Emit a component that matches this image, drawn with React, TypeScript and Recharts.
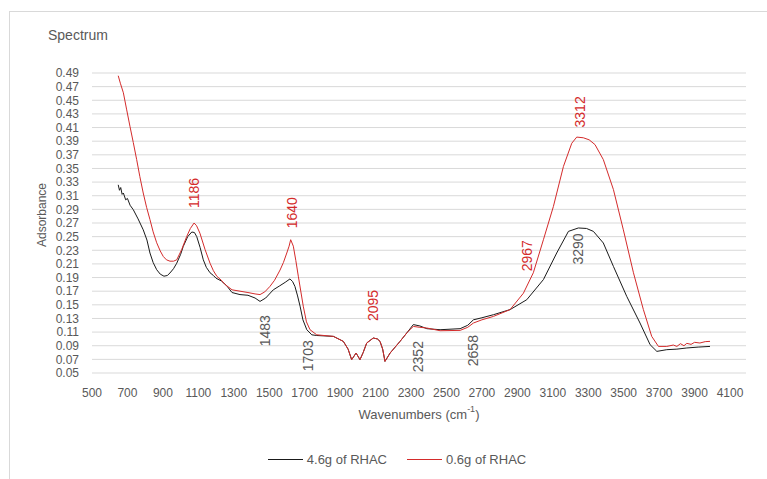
import {
  CartesianGrid,
  Label,
  Legend,
  Line,
  LineChart,
  ReferenceDot,
  XAxis,
  YAxis,
} from 'recharts';

// 4.6g of RHAC (black trace)
const blackWave = [
  648, 655, 662, 670, 677, 690, 700, 715, 733, 760, 789, 810, 827, 845, 865, 885, 906, 925, 940,
  960, 978, 1000, 1015, 1040, 1063, 1078, 1091, 1110, 1128, 1145, 1166, 1185, 1200, 1230, 1260,
  1290, 1335, 1380, 1420, 1448, 1480, 1523, 1560, 1590, 1617, 1632, 1645, 1660, 1674, 1690, 1712,
  1740, 1768, 1862, 1918, 1945, 1965, 1990, 2012, 2030, 2050, 2087, 2110, 2125, 2140, 2153, 2182,
  2238, 2280, 2313, 2350, 2389, 2464, 2577, 2620, 2652, 2700, 2765, 2859, 2953, 3047, 3122, 3188,
  3244, 3290, 3329, 3385, 3442, 3517, 3592, 3649, 3687, 3743, 3800, 3856, 3920, 3987,
];
const blackAbs = [
  0.326, 0.318, 0.322, 0.312, 0.314, 0.304, 0.306, 0.296, 0.2895, 0.276, 0.26, 0.245, 0.226,
  0.212, 0.2015, 0.195, 0.192, 0.193, 0.1967, 0.203, 0.211, 0.224, 0.2357, 0.25, 0.2568, 0.256,
  0.25, 0.234, 0.216, 0.205, 0.197, 0.193, 0.189, 0.185, 0.178, 0.168, 0.165, 0.164, 0.16, 0.155,
  0.16, 0.172, 0.178, 0.183, 0.188, 0.184, 0.177, 0.163, 0.148, 0.128, 0.1135, 0.106, 0.105,
  0.1037, 0.0964, 0.085, 0.0695, 0.0793, 0.0695, 0.08, 0.094, 0.1013, 0.1, 0.0964, 0.085, 0.067,
  0.0793, 0.0964, 0.11, 0.121, 0.119, 0.115, 0.1135, 0.115, 0.12, 0.128, 0.131, 0.1355, 0.143,
  0.1575, 0.187, 0.226, 0.2577, 0.2627, 0.262, 0.2577, 0.2407, 0.2063, 0.1624, 0.1233, 0.0915,
  0.0817, 0.0842, 0.085, 0.0867, 0.088, 0.089,
];

// 0.6g of RHAC (red trace)
const redWave = [
  648, 660, 677, 695, 714, 733, 752, 770, 789, 808, 827, 845, 865, 885, 902, 920, 940, 960, 978,
  1006, 1034, 1055, 1076, 1090, 1109, 1138, 1166, 1185, 1204, 1230, 1250, 1290, 1335, 1380, 1420,
  1448, 1475, 1504, 1530, 1561, 1580, 1599, 1612, 1621, 1636, 1650, 1664, 1692, 1710, 1730, 1768,
  1862, 1918, 1945, 1965, 1990, 2012, 2030, 2050, 2087, 2110, 2125, 2140, 2153, 2182, 2238, 2280,
  2313, 2350, 2389, 2464, 2577, 2620, 2652, 2700, 2765, 2859, 2934, 2990, 3047, 3103, 3160, 3207,
  3235, 3272, 3305, 3338, 3385, 3442, 3498, 3555, 3611, 3658, 3696, 3743, 3780, 3800, 3820, 3840,
  3856, 3880, 3900, 3930, 3960, 3987,
];
const redAbs = [
  0.486, 0.475, 0.461, 0.437, 0.412, 0.388, 0.363, 0.338, 0.314, 0.293, 0.275, 0.257, 0.241,
  0.229, 0.221, 0.216, 0.214, 0.214, 0.216, 0.231, 0.25, 0.262, 0.27, 0.266, 0.255, 0.231, 0.211,
  0.2, 0.192, 0.186, 0.18, 0.172, 0.17, 0.168, 0.166, 0.165, 0.169, 0.177, 0.186, 0.201, 0.212,
  0.226, 0.236, 0.2455, 0.236, 0.215, 0.192, 0.148, 0.125, 0.1135, 0.106, 0.1037, 0.0964, 0.085,
  0.0695, 0.0793, 0.0695, 0.08, 0.094, 0.1013, 0.1, 0.0964, 0.085, 0.067, 0.0793, 0.0964, 0.11,
  0.1183, 0.117, 0.116, 0.112, 0.1125, 0.117, 0.1233, 0.128, 0.133, 0.143, 0.167, 0.197, 0.2455,
  0.294, 0.353, 0.387, 0.396, 0.395, 0.392, 0.385, 0.363, 0.319, 0.26, 0.197, 0.143, 0.1037,
  0.089, 0.089, 0.091, 0.089, 0.093, 0.09, 0.0935, 0.092, 0.095, 0.094, 0.096, 0.0964,
];

const seriesNames = ['4.6g of RHAC', '0.6g of RHAC'];
const seriesColors = ['#1a1a1a', '#d42b2b'];

const xTicks = [
  500, 700, 900, 1100, 1300, 1500, 1700, 1900, 2100, 2300, 2500, 2700, 2900, 3100, 3300, 3500,
  3700, 3900, 4100,
];
const yTicks = [
  0.05, 0.07, 0.09, 0.11, 0.13, 0.15, 0.17, 0.19, 0.21, 0.23, 0.25, 0.27, 0.29, 0.31, 0.33, 0.35,
  0.37, 0.39, 0.41, 0.43, 0.45, 0.47, 0.49,
];

// peak annotations, anchored in data coordinates
const redPeakText = ['1186', '1640', '2095', '2967', '3312'];
const redPeakWave = [1076, 1629, 2086, 2955, 3254];
const redPeakAbs = [0.314, 0.285, 0.149, 0.222, 0.433];
const blackPeakText = ['1483', '1703', '2352', '2658', '3290'];
const blackPeakWave = [1476, 1719, 2340, 2650, 3242];
const blackPeakAbs = [0.112, 0.0754, 0.074, 0.0828, 0.232];

const font = '"Liberation Sans", Arial, sans-serif';
const textGray = '#595959';

const toPoints = (wave: number[], abs: number[]) => wave.map((w, i) => ({ w, a: abs[i] }));
const blackData = toPoints(blackWave, blackAbs);
const redData = toPoints(redWave, redAbs);

const verticalText = (text: string, color: string) => (props: any) => (
  <text
    x={props.cx}
    y={props.cy}
    transform={`rotate(-90 ${props.cx} ${props.cy})`}
    textAnchor="middle"
    dominantBaseline="central"
    fill={color}
    fontSize={14}
    fontFamily={font}
  >
    {text}
  </text>
);

function SeriesLegend() {
  return (
    <div
      style={{
        display: 'flex',
        justifyContent: 'center',
        gap: 20,
        fontSize: 13,
        color: textGray,
        fontFamily: font,
      }}
    >
      {seriesNames.map((name, i) => (
        <span key={name} style={{ display: 'flex', alignItems: 'center' }}>
          <span
            style={{ width: 35, height: 0, borderTop: `1px solid ${seriesColors[i]}`, marginRight: 4 }}
          />
          {name}
        </span>
      ))}
    </div>
  );
}

export default function App() {
  return (
    <div
      style={{
        position: 'absolute',
        left: 0,
        top: 0,
        width: 767,
        height: 479,
        overflow: 'hidden',
        background: '#FFFFFF',
        fontFamily: font,
      }}
    >
      <div
        style={{
          position: 'absolute',
          left: 9,
          top: 11,
          width: 820,
          height: 520,
          border: '1px solid #D9D9D9',
        }}
      />
      <div style={{ position: 'absolute', left: 48, top: 27, fontSize: 14, color: textGray }}>
        Spectrum
      </div>
      <div style={{ position: 'absolute', left: 0, top: 0 }}>
        <LineChart width={767} height={479} margin={{ top: 73, right: 21, left: 32, bottom: 52 }}>
          <CartesianGrid vertical={false} stroke="#D9D9D9" />
          <XAxis
            dataKey="w"
            type="number"
            domain={[500, 4190]}
            ticks={xTicks}
            interval={0}
            axisLine={false}
            tickLine={false}
            tickSize={0}
            tickMargin={15}
            height={30}
            tick={{ fill: textGray, fontSize: 12, fontFamily: font }}
            allowDuplicatedCategory={false}
          >
            <Label
              content={({ viewBox }: any) => (
                <text
                  x={viewBox.x + viewBox.width / 2}
                  y={viewBox.y + 41}
                  textAnchor="middle"
                  dominantBaseline="central"
                  fill={textGray}
                  fontSize={13}
                  fontFamily={font}
                >
                  Wavenumbers (cm
                  <tspan dy={-5} fontSize={9}>
                    -1
                  </tspan>
                  <tspan dy={5}>)</tspan>
                </text>
              )}
            />
          </XAxis>
          <YAxis
            type="number"
            domain={[0.05, 0.49]}
            ticks={yTicks}
            interval={0}
            width={60}
            axisLine={false}
            tickLine={false}
            tickSize={0}
            tickMargin={13}
            tickFormatter={(v: number) => v.toFixed(2)}
            tick={{ fill: textGray, fontSize: 12, fontFamily: font }}
          >
            <Label
              content={({ viewBox }: any) => (
                <text
                  x={42}
                  y={viewBox.y + viewBox.height / 2 - 8}
                  transform={`rotate(-90 42 ${viewBox.y + viewBox.height / 2 - 8})`}
                  textAnchor="middle"
                  dominantBaseline="central"
                  fill={textGray}
                  fontSize={12}
                  fontFamily={font}
                >
                  Adsorbance
                </text>
              )}
            />
          </YAxis>
          <Legend
            verticalAlign="bottom"
            height={24}
            content={() => <SeriesLegend />}
            wrapperStyle={{ top: 452, bottom: 'auto', left: 9, width: 776 }}
          />
          <Line
            data={blackData}
            dataKey="a"
            name={seriesNames[0]}
            stroke={seriesColors[0]}
            strokeWidth={1}
            dot={false}
            isAnimationActive={false}
          />
          <Line
            data={redData}
            dataKey="a"
            name={seriesNames[1]}
            stroke={seriesColors[1]}
            strokeWidth={1}
            dot={false}
            isAnimationActive={false}
          />
          {redPeakText.map((t, i) => (
            <ReferenceDot
              key={`r${t}`}
              x={redPeakWave[i]}
              y={redPeakAbs[i]}
              r={0}
              shape={verticalText(t, '#D42B2B')}
            />
          ))}
          {blackPeakText.map((t, i) => (
            <ReferenceDot
              key={`b${t}`}
              x={blackPeakWave[i]}
              y={blackPeakAbs[i]}
              r={0}
              shape={verticalText(t, textGray)}
            />
          ))}
        </LineChart>
      </div>
    </div>
  );
}
